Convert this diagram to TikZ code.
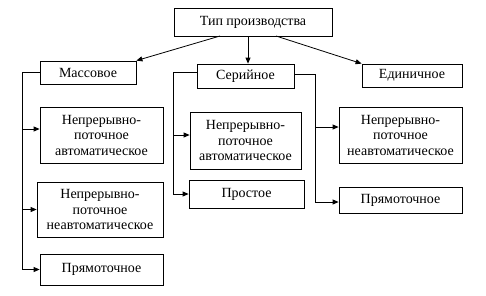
\documentclass[tikz,border=0pt]{standalone}
\usepackage{fontspec}
\setmainfont{Liberation Serif}
\usetikzlibrary{arrows.meta}
\begin{document}
\begin{tikzpicture}[x=1pt,y=-1pt,
  box/.style={draw,line width=0.8pt,align=center,inner sep=0pt,font=\fontsize{14}{15.5}\selectfont},
  arr/.style={line width=0.8pt,-{Triangle[length=6pt,width=5pt]}},
  ln/.style={line width=0.8pt}]
\useasboundingbox (0,0) rectangle (486,295);
\node[box,minimum width=158pt,minimum height=28pt] (top) at (253,22) {Тип производства};
\node[box,minimum width=96pt,minimum height=23pt] (mas) at (88,72.5) {Массовое};
\node[box,minimum width=97pt,minimum height=24pt] (ser) at (245.5,76) {Серийное};
\node[box,minimum width=100pt,minimum height=23pt] (edi) at (412,75.5) {Единичное};
\node[box,minimum width=123pt,minimum height=56pt] (l1) at (101.5,135) {Непрерывно-\\поточное\\автоматическое};
\node[box,minimum width=126pt,minimum height=55pt] (l2) at (100,209.5) {Непрерывно-\\поточное\\неавтоматическое};
\node[box,minimum width=123pt,minimum height=31pt] (l3) at (101.5,269.5) {Прямоточное};
\node[box,minimum width=111pt,minimum height=57pt] (m1) at (245.5,140.5) {Непрерывно-\\поточное\\автоматическое};
\node[box,minimum width=115pt,minimum height=28pt] (m2) at (246.5,194) {Простое};
\node[box,minimum width=123pt,minimum height=56pt] (r1) at (400.5,135) {Непрерывно-\\поточное\\неавтоматическое};
\node[box,minimum width=123pt,minimum height=26pt] (r2) at (400.5,200) {Прямоточное};
% top arrows
\coordinate (ta) at (220,36);
\coordinate (tc) at (276,36);
\draw[arr] (ta) -- (mas.north east);
\draw[arr] (top.south -| ser.north) ++(2.5,0) coordinate (tb) -- (tb |- ser.north);
\draw[arr] (tc) -- (edi.north west);
% left trunk
\coordinate (lx) at (22,0);
\draw[ln] (mas.west) -- (lx |- mas.west);
\draw[arr] (lx |- mas.west) -- (lx |- l3.west) -- (l3.west);
\coordinate (l1a) at ([yshift=6pt]l1.west);
\coordinate (l2a) at (l2.west);
\draw[arr] (lx |- l1a) -- (l1a);
\draw[arr] (lx |- l2a) -- (l2a);
% middle trunk
\coordinate (mx) at (173,0);
\coordinate (sw) at ([yshift=4pt]ser.west);
\draw[arr] (sw) -- (mx |- sw) -- (mx |- m2.west) -- (m2.west);
\coordinate (m1a) at ([yshift=5.5pt]m1.west);
\draw[arr] (mx |- m1a) -- (m1a);
% right trunk
\coordinate (rx) at (315,0);
\coordinate (se) at ([yshift=2pt]ser.east);
\coordinate (r2a) at ([yshift=-2pt]r2.west);
\coordinate (r1a) at ([yshift=8pt]r1.west);
\draw[arr] (se) -- (rx |- se) -- (rx |- r2a) -- (r2a);
\draw[arr] (rx |- r1a) -- (r1a);
\end{tikzpicture}
\end{document}
